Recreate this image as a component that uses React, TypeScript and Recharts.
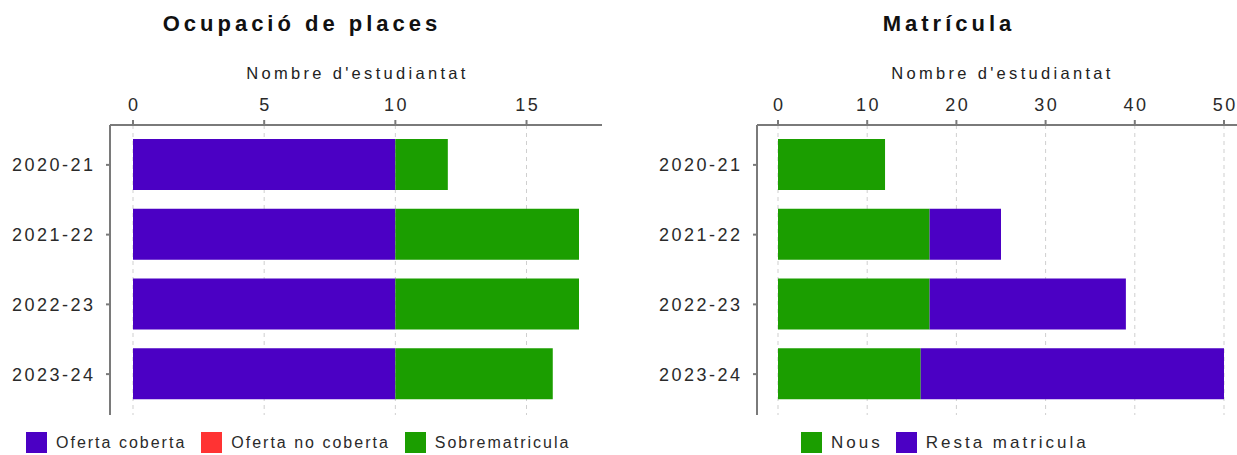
import React from 'react';
import { BarChart, Bar, XAxis, YAxis, CartesianGrid, Label } from 'recharts';

const cursos = ['2020-21', '2021-22', '2022-23', '2023-24'];
const ofertaCoberta = [10, 10, 10, 10];
const ofertaNoCoberta = [0, 0, 0, 0];
const sobrematricula = [2, 7, 7, 6];
const nous = [12, 17, 17, 16];
const restaMatricula = [0, 8, 22, 34];
const ticksPlaces = [0, 5, 10, 15];
const ticksMatricula = [0, 10, 20, 30, 40, 50];

const PURPLE = '#4b00c4';
const GREEN = '#1b9e00';
const RED = '#ff3333';
const FONT = '"Liberation Sans", Arial, sans-serif';

const placesData = cursos.map((c, i) => ({
  curs: c,
  coberta: ofertaCoberta[i],
  noCoberta: ofertaNoCoberta[i],
  sobre: sobrematricula[i],
}));
const matData = cursos.map((c, i) => ({ curs: c, nous: nous[i], resta: restaMatricula[i] }));

const placesSeries = [
  { key: 'coberta', name: 'Oferta coberta', color: PURPLE },
  { key: 'noCoberta', name: 'Oferta no coberta', color: RED },
  { key: 'sobre', name: 'Sobrematricula', color: GREEN },
];
const matSeries = [
  { key: 'nous', name: 'Nous', color: GREEN },
  { key: 'resta', name: 'Resta matricula', color: PURPLE },
];

const TICK_LS = 2.5;
const XTick = (props: any) => {
  const { x, y, payload } = props;
  return (
    <text x={x} y={y} dx={TICK_LS / 2} dy={1} textAnchor="middle" fill="#2a2a2a" fontSize={18} fontFamily={FONT} letterSpacing={TICK_LS}>
      {payload.value}
    </text>
  );
};
const YTick = (props: any) => {
  const { x, y, payload } = props;
  return (
    <text x={x} y={y} dx={TICK_LS} dy={6.5} textAnchor="end" fill="#2a2a2a" fontSize={18} fontFamily={FONT} letterSpacing={TICK_LS}>
      {payload.value}
    </text>
  );
};
const axisLabel = (props: any) => {
  const vb = props.viewBox;
  return (
    <text x={vb.x + vb.width / 2} y={vb.y + 14} dx={1.5} textAnchor="middle" fill="#222" fontSize={16.5} fontFamily={FONT} letterSpacing={3.3}>
      Nombre d'estudiantat
    </text>
  );
};

const Legend = ({ items, left, ls, fs, gap }: { items: { name: string; color: string }[]; left: number; ls: number; fs: number; gap: number }) => (
  <div style={{ position: 'absolute', left, top: 432, display: 'flex', alignItems: 'center', fontFamily: FONT, fontSize: fs, color: '#2a2a2a', letterSpacing: ls, whiteSpace: 'nowrap' }}>
    {items.map((it) => (
      <div key={it.name} style={{ display: 'flex', alignItems: 'center', marginRight: gap - ls }}>
        <div style={{ width: 21, height: 21, background: it.color, marginRight: 9 }} />
        <span>{it.name}</span>
      </div>
    ))}
  </div>
);

const Title = ({ text, cx }: { text: string; cx: number }) => (
  <div style={{ position: 'absolute', left: cx - 200, width: 400, top: 11, textAlign: 'center', fontFamily: FONT, fontWeight: 'bold', fontSize: 22, letterSpacing: 4, color: '#111', paddingLeft: 4, boxSizing: 'border-box' }}>
    {text}
  </div>
);

const axisStroke = { stroke: '#7a7a7a', strokeWidth: 2 };

export default function App() {
  return (
    <div style={{ position: 'absolute', left: 0, top: 0, width: 1237, height: 455, overflow: 'hidden', background: '#fff' }}>
      <Title text="Ocupació de places" cx={300} />
      <Title text="Matrícula" cx={947} />
      <div style={{ position: 'absolute', left: 0, top: 0 }}>
        <BarChart width={620} height={455} data={placesData} layout="vertical" margin={{ top: 65, right: 18, bottom: 40, left: 0 }}>
          <CartesianGrid horizontal={false} verticalValues={ticksPlaces} stroke="#cfcfcf" strokeDasharray="4 4" />
          <XAxis type="number" orientation="top" domain={[0, 17]} ticks={ticksPlaces} height={60} padding={{ left: 23, right: 23 }}
            axisLine={axisStroke} tickLine={axisStroke} tickSize={5} tickMargin={10} tick={<XTick />} interval={0}>
            <Label content={axisLabel} />
          </XAxis>
          <YAxis type="category" dataKey="curs" width={110} padding={{ top: 5, bottom: 6 }} axisLine={axisStroke} tickLine={axisStroke} tickSize={4} tickMargin={13} tick={<YTick />} interval={0} />
          {placesSeries.map((s) => (
            <Bar key={s.key} dataKey={s.key} name={s.name} stackId="a" fill={s.color} barSize={51} isAnimationActive={false} />
          ))}
        </BarChart>
      </div>
      <div style={{ position: 'absolute', left: 620, top: 0 }}>
        <BarChart width={640} height={455} data={matData} layout="vertical" margin={{ top: 65, right: 15, bottom: 40, left: 0 }}>
          <CartesianGrid horizontal={false} verticalValues={ticksMatricula} stroke="#cfcfcf" strokeDasharray="4 4" />
          <XAxis type="number" orientation="top" domain={[0, 50]} ticks={ticksMatricula} height={60} padding={{ left: 21, right: 21 }}
            axisLine={axisStroke} tickLine={axisStroke} tickSize={5} tickMargin={10} tick={<XTick />} interval={0}>
            <Label content={axisLabel} />
          </XAxis>
          <YAxis type="category" dataKey="curs" width={137} padding={{ top: 5, bottom: 6 }} axisLine={axisStroke} tickLine={axisStroke} tickSize={4} tickMargin={13} tick={<YTick />} interval={0} />
          {matSeries.map((s) => (
            <Bar key={s.key} dataKey={s.key} name={s.name} stackId="b" fill={s.color} barSize={51} isAnimationActive={false} />
          ))}
        </BarChart>
      </div>
      <Legend items={placesSeries} left={26} ls={2.0} fs={16} gap={17} />
      <Legend items={matSeries} left={801} ls={3} fs={17} gap={16} />
    </div>
  );
}
